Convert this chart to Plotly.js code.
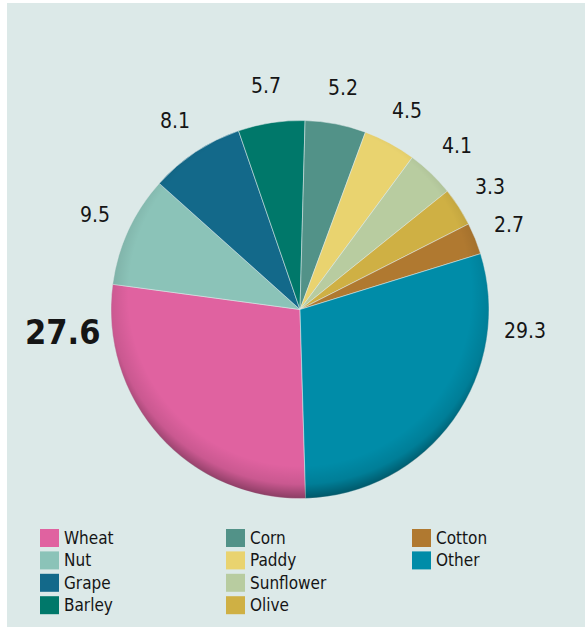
<!DOCTYPE html>
<html><head><meta charset="utf-8">
<script src="https://cdn.plot.ly/plotly-3.0.1.min.js"></script>
<style>
html,body{margin:0;padding:0;background:#fff;}
#wrap{position:relative;width:585px;height:627px;overflow:hidden;}
#panel{position:absolute;left:7px;top:3px;right:0;bottom:0;background:#dce9e8;}
#chart{position:absolute;left:0;top:0;width:585px;height:627px;}
</style></head><body>
<div id="wrap"><div id="panel"></div><div id="chart"></div></div>
<script>
// ---- data ----
const categories = ['Wheat','Nut','Grape','Barley','Corn','Paddy','Sunflower','Olive','Cotton','Other'];
const shares = [27.6, 9.5, 8.1, 5.7, 5.2, 4.5, 4.1, 3.3, 2.7, 29.3];
const sliceColors = ['#e062a0','#8bc3b8','#13698a','#00786a','#529288','#e9d36f','#b8cca0','#cfb044','#b07930','#008ca8'];
const highlighted = 'Wheat';

// ---- layout constants ----
const W = 585, H = 627;
const cx = 300, cy = 309.5, R = 189;      // pie centre / radius in px
const rotation = 178.3;                    // start angle of first slice (clockwise from 12 o'clock)
const font = '"DejaVu Sans Condensed", "DejaVu Sans", sans-serif';
const textColor = '#151515';

const domain = {
  x: [(cx - R) / W, (cx + R) / W],
  y: [1 - (cy + R) / H, 1 - (cy - R) / H]
};

const trace = {
  type: 'pie',
  labels: categories,
  values: shares,
  sort: false,
  direction: 'clockwise',
  rotation: rotation,
  textinfo: 'none',
  hoverinfo: 'label+value',
  showlegend: false,
  marker: { colors: sliceColors, line: { color: 'rgba(225,236,235,0.75)', width: 0.7 } },
  domain: domain
};

// value labels, placed from slice angles
const total = shares.reduce((a, b) => a + b, 0);
const annotations = [];
let cum = 0;
shares.forEach((v, i) => {
  const a0 = rotation + cum / total * 360;
  const a1 = a0 + v / total * 360;
  cum += v;
  const mid = (a0 + a1) / 2;
  let ang = mid;
  // big slices crossing the horizontal: label near the horizontal
  for (const h of [90, 270, 450]) {
    if (a0 < h && a1 > h) ang = h + 5.5 * Math.sign(mid - h);
  }
  const big = categories[i] === highlighted;
  const r = R + (big ? 50 : 37);
  const t = ang * Math.PI / 180;
  const px = cx + r * Math.sin(t), py = cy - r * Math.cos(t);
  annotations.push({
    x: px / W, y: 1 - py / H, xref: 'paper', yref: 'paper',
    xanchor: 'center', yanchor: 'middle', showarrow: false,
    text: big ? '<b>' + v.toFixed(1) + '</b>' : v.toFixed(1),
    font: { family: font, size: big ? 34 : 21, color: textColor }
  });
});

// manual 3-column legend (column-major, 4 rows)
const shapes = [];
const legLeft = 40, legTop = 529, colPitch = 186, rowPitch = 22.4, sw = 19, sh = 18;
categories.forEach((c, i) => {
  const col = Math.floor(i / 4), row = i % 4;
  const x0 = legLeft + col * colPitch, y0 = legTop + row * rowPitch;
  shapes.push({
    type: 'rect', xref: 'paper', yref: 'paper',
    x0: x0 / W, x1: (x0 + sw) / W, y0: 1 - (y0 + sh) / H, y1: 1 - y0 / H,
    fillcolor: sliceColors[i], line: { width: 0 }
  });
  annotations.push({
    x: (x0 + sw + 3) / W, y: 1 - (y0 + sh / 2) / H, xref: 'paper', yref: 'paper',
    xanchor: 'left', yanchor: 'middle', showarrow: false,
    text: c, font: { family: font, size: 17, color: textColor }
  });
});

// rim shading overlay
const svg = "<svg xmlns='http://www.w3.org/2000/svg' viewBox='0 0 100 100' preserveAspectRatio='none'>" +
  "<defs><radialGradient id='g' cx='50' cy='46' r='54' gradientUnits='userSpaceOnUse'>" +
  "<stop offset='0' stop-color='#000' stop-opacity='0'/>" +
  "<stop offset='0.84' stop-color='#000' stop-opacity='0'/>" +
  "<stop offset='0.93' stop-color='#000' stop-opacity='0.1'/>" +
  "<stop offset='1' stop-color='#000' stop-opacity='0.38'/>" +
  "</radialGradient></defs><circle cx='50' cy='50' r='50' fill='url(#g)'/></svg>";
const shade = 'data:image/svg+xml;charset=utf-8,' + encodeURIComponent(svg);

const layout = {
  width: W, height: H,
  margin: { l: 0, r: 0, t: 0, b: 0 },
  paper_bgcolor: 'rgba(0,0,0,0)',
  plot_bgcolor: 'rgba(0,0,0,0)',
  showlegend: false,
  annotations: annotations,
  shapes: shapes,
  images: [{
    source: shade, xref: 'paper', yref: 'paper',
    x: domain.x[0], y: domain.y[1], sizex: 2 * R / W, sizey: 2 * R / H,
    xanchor: 'left', yanchor: 'top', sizing: 'stretch', layer: 'above'
  }]
};

Plotly.newPlot('chart', [trace], layout, { displayModeBar: false, staticPlot: true });
</script>
</body></html>
